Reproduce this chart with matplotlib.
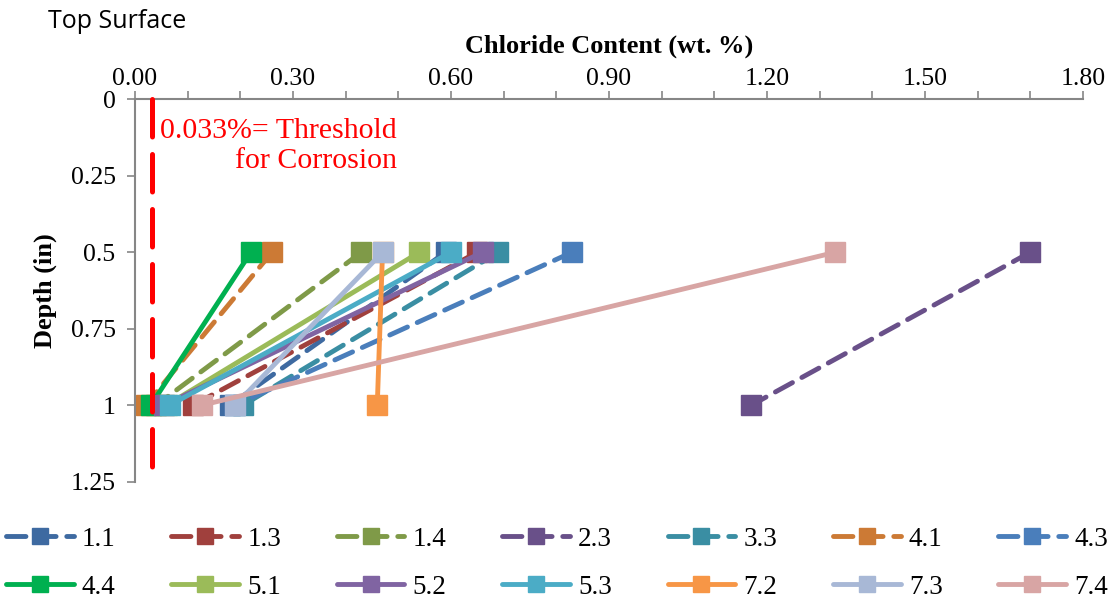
import numpy as np
import matplotlib.pyplot as plt
from matplotlib.ticker import MultipleLocator, FixedLocator

# Data
depth = [0.5, 1.0]
labels = ['1.1', '1.3', '1.4', '2.3', '3.3', '4.1', '4.3',
          '4.4', '5.1', '5.2', '5.3', '7.2', '7.3', '7.4']
cl_05 = [0.59, 0.65, 0.43, 1.70, 0.69, 0.26, 0.83,
         0.22, 0.54, 0.66, 0.60, 0.47, 0.47, 1.33]
cl_10 = [0.18, 0.11, 0.04, 1.17, 0.205, 0.02, 0.19,
         0.03, 0.06, 0.055, 0.066, 0.46, 0.19, 0.127]
dashed = [True] * 7 + [False] * 7
colors = ['#3E6AA1', '#A0403D', '#7F9A48', '#695089', '#3A8EA3', '#CC7A35', '#4A7EBB',
          '#00B050', '#9BBB59', '#8064A2', '#4BACC6', '#F79646', '#A8B8D6', '#D8A5A4']
threshold = 0.033

plt.rcParams['font.family'] = ['Liberation Serif', 'DejaVu Serif']

fig = plt.figure(figsize=(11.12, 6.01), dpi=100)
ax = fig.add_axes([135 / 1112, 1 - 481.7 / 601, 948 / 1112, (481.7 - 99.3) / 601])

handles = []
for i, lab in enumerate(labels):
    ls = (0, (4, 2.2)) if dashed[i] else '-'
    h, = ax.plot([cl_05[i], cl_10[i]], depth, color=colors[i], lw=3.5, ls=ls,
                 dash_capstyle='round', solid_capstyle='round',
                 marker='s', ms=14, mec=colors[i], mfc=colors[i],
                 label=lab, zorder=2 + i * 0.01, clip_on=False)
    handles.append(h)

# threshold line
ax.plot([threshold, threshold], [0, 1.25], color='#FF0000', lw=3.6,
        ls=(0, (7.5, 3.5)), dash_capstyle='round', zorder=3, clip_on=False)
ax.text(397 / 1112, 1 - 146 / 601, '0.033%= Threshold\nfor Corrosion', color='#FF0000',
        fontsize=21.5, ha='right', va='center', linespacing=1.2,
        transform=fig.transFigure)

ax.set_xlim(0, 1.8)
ax.set_ylim(1.25, 0)
ax.xaxis.tick_top()
ax.xaxis.set_label_position('top')
ax.xaxis.set_major_locator(FixedLocator([0, 0.3, 0.6, 0.9, 1.2, 1.5, 1.8]))
ax.xaxis.set_minor_locator(MultipleLocator(0.1))
ax.set_xticklabels(['0.00', '0.30', '0.60', '0.90', '1.20', '1.50', '1.80'])
ax.set_yticks([0, 0.25, 0.5, 0.75, 1, 1.25])
ax.set_yticklabels(['0', '0.25', '0.5', '0.75', '1', '1.25'])
ax.tick_params(axis='both', which='both', colors='#868686', labelcolor='black',
               labelsize=18.5, width=1.2)
ax.tick_params(axis='x', which='both', length=6, pad=1)
ax.tick_params(axis='y', length=6, pad=8)
for s in ['right', 'bottom']:
    ax.spines[s].set_visible(False)
for s in ['top', 'left']:
    ax.spines[s].set_color('#868686')
    ax.spines[s].set_linewidth(1.5)

ax.set_xlabel('Chloride Content (wt. %)', fontsize=19, fontweight='bold', labelpad=11)
ax.set_ylabel('Depth (in)', fontsize=19, fontweight='bold', labelpad=10)

fig.text(48 / 1112, 1 - 22 / 601, 'Top Surface', fontsize=18, family='Open Sans',
         ha='left', va='center')

# legend: 2 rows x 7 cols, row-major order
order = []
for c in range(7):
    order += [c, c + 7]
leg = fig.legend([handles[k] for k in order], [labels[k] for k in order],
                 ncol=7, loc='lower left', mode='expand',
                 bbox_to_anchor=(6 / 1112, 0.002, 1102 / 1112, 0.15),
                 frameon=False, fontsize=19.5, handlelength=2.5, handletextpad=0.3,
                 markerscale=0.85, labelspacing=0.85, borderaxespad=0.0, borderpad=0.0)

fig.savefig('out.png', dpi=100)
